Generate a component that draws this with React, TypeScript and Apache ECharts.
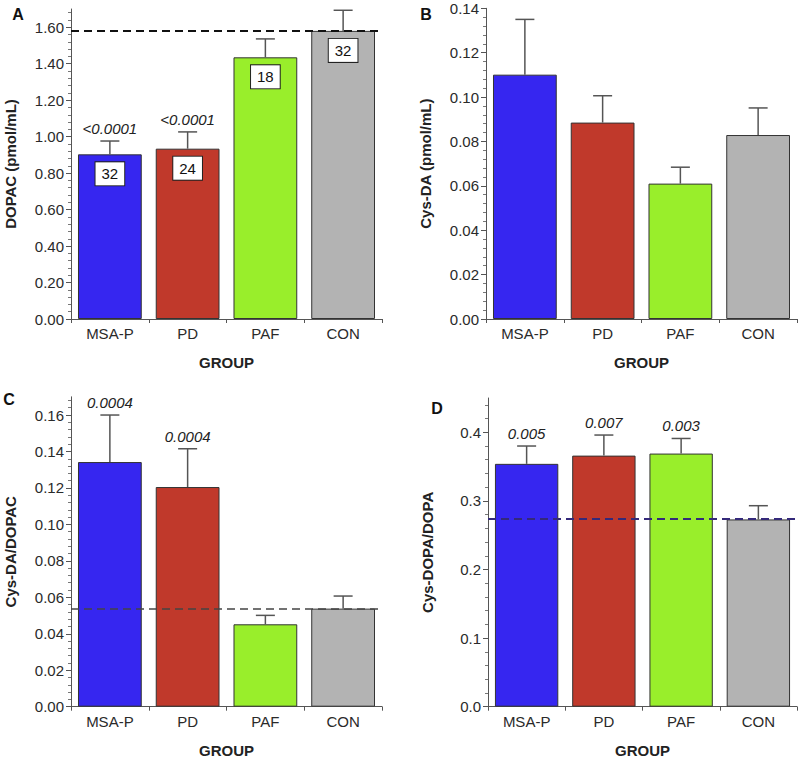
import React, { useEffect, useRef } from 'react';
import * as echarts from 'echarts';

const groups = ['MSA-P', 'PD', 'PAF', 'CON'];
const barColors = ['#3626F0', '#C0392B', '#99EE2B', '#B3B3B3'];

// Panel A: DOPAC
const dopacMean = [0.903, 0.934, 1.435, 1.58];
const dopacErrTop = [0.976, 1.026, 1.536, 1.693];
const dopacN = ['32', '24', '18', '32'];
const dopacP = ['<0.0001', '<0.0001', '', ''];
const dopacRef = 1.58;
const dopacTicks = [0, 0.2, 0.4, 0.6, 0.8, 1.0, 1.2, 1.4, 1.6];

// Panel B: Cys-DA
const cysdaMean = [0.1101, 0.0885, 0.061, 0.0829];
const cysdaErrTop = [0.135, 0.1006, 0.0684, 0.0951];
const cysdaP = ['', '', '', ''];
const cysdaTicks = [0, 0.02, 0.04, 0.06, 0.08, 0.1, 0.12, 0.14];

// Panel C: Cys-DA/DOPAC
const ratioMean = [0.1342, 0.1205, 0.0452, 0.0538];
const ratioErrTop = [0.16, 0.1415, 0.0501, 0.0607];
const ratioP = ['0.0004', '0.0004', '', ''];
const ratioRef = 0.054;
const ratioTicks = [0, 0.02, 0.04, 0.06, 0.08, 0.1, 0.12, 0.14, 0.16];

// Panel D: Cys-DOPA/DOPA
const dopaMean = [0.354, 0.366, 0.369, 0.273];
const dopaErrTop = [0.38, 0.396, 0.391, 0.293];
const dopaP = ['0.005', '0.007', '0.003', ''];
const dopaRef = 0.274;
const dopaTicks = [0, 0.1, 0.2, 0.3, 0.4];

const FONT = 'Liberation Sans, Arial, Helvetica, sans-serif';

type Panel = {
  letter: string;
  letterPos: [number, number];
  grid: { left: number; top: number; width: number; height: number };
  yName: string;
  max: number;
  interval: number;
  ticks: number[];
  decimals: number;
  mean: number[];
  errTop: number[];
  pLabels: string[];
  nLabels?: string[];
  ref?: number;
  refColor?: string;
  refWidth?: number;
};

const panels: Panel[] = [
  {
    letter: 'A', letterPos: [18, 14],
    grid: { left: 71, top: 9, width: 311, height: 310 },
    yName: 'DOPAC (pmol/mL)', max: 1.7, interval: 0.2, ticks: dopacTicks, decimals: 2,
    mean: dopacMean, errTop: dopacErrTop, pLabels: dopacP, nLabels: dopacN,
    ref: dopacRef, refColor: '#111111', refWidth: 2,
  },
  {
    letter: 'B', letterPos: [426, 14],
    grid: { left: 486, top: 8.3, width: 311, height: 310.7 },
    yName: 'Cys-DA (pmol/mL)', max: 0.14, interval: 0.02, ticks: cysdaTicks, decimals: 2,
    mean: cysdaMean, errTop: cysdaErrTop, pLabels: cysdaP,
  },
  {
    letter: 'C', letterPos: [9, 399],
    grid: { left: 71, top: 396.8, width: 311, height: 309.9 },
    yName: 'Cys-DA/DOPAC', max: 0.17, interval: 0.02, ticks: ratioTicks, decimals: 2,
    mean: ratioMean, errTop: ratioErrTop, pLabels: ratioP,
    ref: ratioRef, refColor: '#444444', refWidth: 1.6,
  },
  {
    letter: 'D', letterPos: [437, 408],
    grid: { left: 488, top: 398, width: 309, height: 308.7 },
    yName: 'Cys-DOPA/DOPA', max: 0.45, interval: 0.1, ticks: dopaTicks, decimals: 1,
    mean: dopaMean, errTop: dopaErrTop, pLabels: dopaP,
    ref: dopaRef, refColor: '#34297A', refWidth: 2,
  },
];

function buildOption() {
  const grid: any[] = [];
  const xAxis: any[] = [];
  const yAxis: any[] = [];
  const series: any[] = [];
  const graphic: any[] = [];

  panels.forEach((p, i) => {
    grid.push({ ...p.grid });
    xAxis.push({
      type: 'category',
      gridIndex: i,
      data: groups,
      name: 'GROUP',
      nameLocation: 'middle',
      nameGap: 36,
      nameTextStyle: { fontFamily: FONT, fontSize: 15, fontWeight: 'bold', color: '#222' },
      axisLine: { lineStyle: { color: '#555', width: 1 } },
      axisTick: { show: true, length: 4, lineStyle: { color: '#555' } },
      axisLabel: { fontFamily: FONT, fontSize: 15, color: '#2a2a2a', margin: 7 },
    });
    yAxis.push({
      type: 'value',
      gridIndex: i,
      min: 0,
      max: p.max,
      interval: p.interval,
      name: p.yName,
      nameLocation: 'middle',
      nameGap: 53,
      nameTextStyle: { fontFamily: FONT, fontSize: 15, fontWeight: 'bold', color: '#222' },
      splitLine: { show: false },
      axisLine: { show: true, lineStyle: { color: '#555', width: 1 } },
      axisTick: { show: true, length: 5, lineStyle: { color: '#555' }, customValues: p.ticks },
      minorTick: { show: true, splitNumber: 5, length: 3, lineStyle: { color: '#777' } },
      axisLabel: {
        fontFamily: FONT, fontSize: 15, color: '#2a2a2a', margin: 7,
        customValues: p.ticks,
        formatter: (v: number) => v.toFixed(p.decimals),
      },
    });

    const barSeries: any = {
      type: 'bar',
      xAxisIndex: i,
      yAxisIndex: i,
      barWidth: '82%',
      data: p.mean.map((v, k) => ({
        value: v,
        itemStyle: { color: barColors[k], borderColor: '#333', borderWidth: 1 },
      })),
      z: 2,
    };
    if (p.nLabels) {
      const nl = p.nLabels;
      barSeries.label = {
        show: true,
        position: 'insideTop',
        distance: 8,
        formatter: (prm: any) => nl[prm.dataIndex],
        fontFamily: FONT,
        fontSize: 15,
        color: '#111',
        backgroundColor: '#ffffff',
        borderColor: '#222',
        borderWidth: 1,
        padding: [4, 6, 4, 6],
      };
    }
    if (p.ref !== undefined) {
      barSeries.markLine = {
        silent: true,
        symbol: 'none',
        precision: 4,
        z: 6,
        label: { show: false },
        lineStyle: { type: [8, 5], color: p.refColor, width: p.refWidth },
        data: [{ yAxis: p.ref }],
      };
    }
    series.push(barSeries);

    const pl = p.pLabels;
    series.push({
      type: 'custom',
      xAxisIndex: i,
      yAxisIndex: i,
      z: 4,
      data: p.mean.map((m, k) => [k, m, p.errTop[k]]),
      renderItem: (params: any, api: any) => {
        const x = api.value(0);
        const base = api.coord([x, api.value(1)]);
        const top = api.coord([x, api.value(2)]);
        const half = 9.5;
        const children: any[] = [
          { type: 'line', shape: { x1: base[0], y1: base[1], x2: top[0], y2: top[1] }, style: { stroke: '#555', lineWidth: 1.5 } },
          { type: 'line', shape: { x1: top[0] - half, y1: top[1], x2: top[0] + half, y2: top[1] }, style: { stroke: '#555', lineWidth: 1.5 } },
        ];
        const t = pl[params.dataIndex];
        if (t) {
          children.push({
            type: 'text',
            x: top[0],
            y: top[1] - 5,
            style: {
              text: t, fontFamily: FONT, fontSize: 15, fontStyle: 'italic',
              fill: '#222', align: 'center', verticalAlign: 'bottom',
            },
          });
        }
        return { type: 'group', children };
      },
    });

    graphic.push({
      type: 'text',
      x: p.letterPos[0],
      y: p.letterPos[1],
      style: {
        text: p.letter, fontFamily: FONT, fontSize: 16, fontWeight: 'bold',
        fill: '#111', align: 'center', verticalAlign: 'middle',
      },
    });
  });

  return {
    animation: false,
    backgroundColor: '#ffffff',
    grid, xAxis, yAxis, series, graphic,
  };
}

export default function App() {
  const ref = useRef<HTMLDivElement>(null);
  useEffect(() => {
    if (!ref.current) return;
    const chart = echarts.init(ref.current, undefined, { renderer: 'svg' });
    chart.setOption(buildOption() as any);
    return () => chart.dispose();
  }, []);
  return (
    <div
      ref={ref}
      style={{ position: 'absolute', left: 0, top: 0, width: 800, height: 761 }}
    />
  );
}
